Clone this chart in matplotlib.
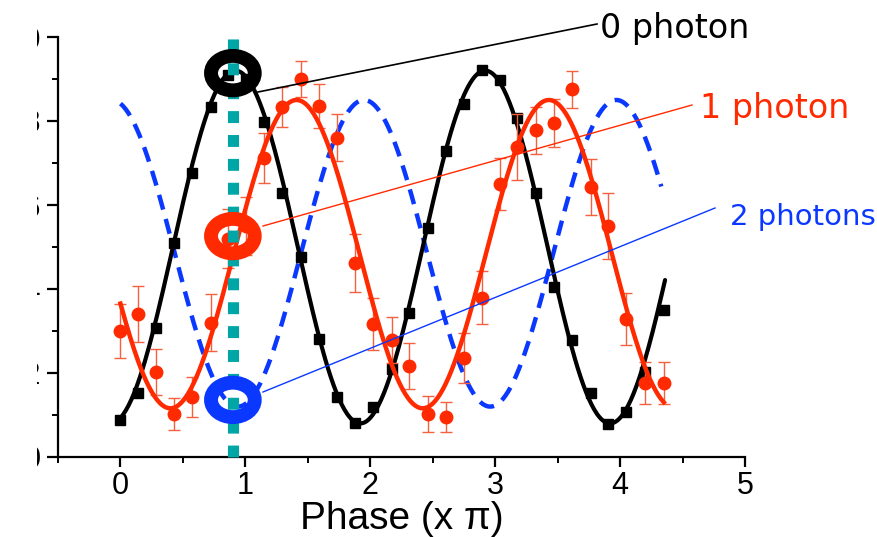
import numpy as np
import matplotlib
matplotlib.use("Agg")
import matplotlib.pyplot as plt
from matplotlib.patches import Ellipse, Rectangle
from matplotlib.lines import Line2D

plt.rcParams['lines.scale_dashes'] = False

# ---------------- data ----------------
phase = [0.00, 0.144, 0.288, 0.432, 0.576, 0.728, 0.864, 1.008, 1.152, 1.296,
         1.448, 1.592, 1.736, 1.880, 2.024, 2.176, 2.312, 2.464, 2.608, 2.752,
         2.896, 3.040, 3.176, 3.328, 3.472, 3.616, 3.768, 3.904, 4.048, 4.200, 4.352]

p0_values = [0.088, 0.152, 0.307, 0.510, 0.676, 0.833, 0.91, 0.90, 0.798, 0.629,
             0.476, 0.281, 0.143, 0.081, 0.119, 0.210, 0.343, 0.545, 0.729, 0.840,
             0.921, 0.898, 0.807, 0.629, 0.405, 0.279, 0.152, 0.079, 0.107, 0.202, 0.350]

p1_values = [0.30, 0.34, 0.203, 0.102, 0.143, 0.32, 0.52, 0.55, 0.712, 0.833,
             0.90, 0.836, 0.76, 0.462, 0.317, 0.278, 0.217, 0.102, 0.095, 0.236,
             0.379, 0.65, 0.738, 0.778, 0.795, 0.876, 0.643, 0.55, 0.329, 0.176, 0.176]

p1_errors = [0.065, 0.066, 0.055, 0.038, 0.047, 0.068, 0.07, 0.07, 0.06, 0.048,
             0.043, 0.053, 0.056, 0.07, 0.062, 0.055, 0.054, 0.043, 0.036, 0.06,
             0.063, 0.063, 0.079, 0.056, 0.057, 0.044, 0.067, 0.078, 0.062, 0.05, 0.05]

# fitted sinusoid parameters: offset, amplitude, peak phase, period, end phase
fit_p0 = (0.50, 0.42, 0.92, 2.00, 4.36)
fit_p1 = (0.483, 0.367, 1.41, 2.02, 4.35)
fit_p2 = (0.485, 0.365, 1.95, 2.02, 4.33)

marker_phase = 0.90
ring_values = [0.914, 0.526, 0.136]

labels = ["0 photon", "1 photon", "2 photons"]
xticks = [0, 1, 2, 3, 4, 5]
yticks = [0.0, 0.2, 0.4, 0.6, 0.8, 1.0]

# ---------------- style ----------------
BLACK = '#000000'
RED = '#FF2A00'
RED_ERR = '#F5603F'
BLUE = '#0A38FF'
TEAL = '#00A6A6'

W, H = 877, 537
fig = plt.figure(figsize=(W / 100, H / 100), dpi=100)
ax = fig.add_axes([58 / W, 80 / H, 687 / W, 420 / H])


def fx(px):
    return px / W


def fy(py):
    return 1 - py / H


def sinus(params):
    off, amp, peak, period, end = params
    x = np.linspace(0, end, 400)
    return x, off + amp * np.cos(2 * np.pi * (x - peak) / period)


# black: 0 photon
x0, y0 = sinus(fit_p0)
ax.plot(x0, y0, color=BLACK, lw=3.0, zorder=3, solid_capstyle='round')
ax.plot(phase, p0_values, 's', color=BLACK, ms=7, zorder=4)

# blue dashed: 2 photons
x2, y2 = sinus(fit_p2)
ax.plot(x2, y2, color=BLUE, lw=3.2, dashes=(11, 7), zorder=2)

# red: 1 photon
ax.errorbar(phase, p1_values, yerr=p1_errors, fmt='none', ecolor=RED_ERR,
            elinewidth=1.0, capsize=4, capthick=1.0, zorder=5)
ax.plot(phase, p1_values, 'o', color=RED, ms=9, zorder=5)
x1, y1 = sinus(fit_p1)
ax.plot(x1, y1, color=RED, lw=3.2, zorder=6)

# teal dotted marker line
ax.plot([marker_phase, marker_phase], [0.0, 1.015], color=TEAL, lw=8,
        dashes=(8.6, 8.6), solid_capstyle='butt', dash_capstyle='butt',
        zorder=7, clip_on=False)

# rings
for yv, col in zip(ring_values, [BLACK, RED, BLUE]):
    ax.add_patch(Ellipse((marker_phase, yv), 0.35, 0.082, fill=False,
                         edgecolor=col, lw=10, zorder=8))

ax.set_xlim(-0.5, 5)
ax.set_ylim(0, 1)
ax.spines['top'].set_visible(False)
ax.spines['right'].set_visible(False)
for s in ['left', 'bottom']:
    ax.spines[s].set_linewidth(1.6)

ax.set_xticks(xticks)
ax.set_xticks(np.arange(-0.5, 5.01, 0.5), minor=True)
ax.set_yticks(yticks)
ax.set_yticks(np.arange(0.1, 1.0, 0.2), minor=True)
ax.set_yticklabels(["0", "0.2", "0.4", "0.6", "0.8", "1.0"])
ax.tick_params(axis='x', which='major', length=7, width=1.6, direction='out',
               labelsize=22, pad=3)
ax.tick_params(axis='x', which='minor', length=4, width=1.4, direction='out')
ax.tick_params(axis='y', which='major', length=8, width=1.6, direction='out',
               labelsize=22, pad=4)
ax.tick_params(axis='y', which='minor', length=4.5, width=1.4, direction='out')
for lab in ax.get_xticklabels() + ax.get_yticklabels():
    lab.set_family('Liberation Sans')

ax.set_xlabel('Phase (x \u03c0)', fontsize=28, family='Liberation Sans', labelpad=0)

# white cover over cut-off y tick labels
fig.add_artist(Rectangle((0, 0), fx(37), 1, transform=fig.transFigure,
                         facecolor='white', edgecolor='none', zorder=20))

# leader lines and labels
leaders = [((258, 92), (597, 24), BLACK, 1.2),
           ((263, 226), (692, 105), RED, 1.0),
           ((263, 392), (715, 208), BLUE, 1.0)]
for (xa, ya), (xb, yb), col, lw in leaders:
    fig.add_artist(Line2D([fx(xa), fx(xb)], [fy(ya), fy(yb)], color=col, lw=lw,
                          transform=fig.transFigure, zorder=9))

text_pos = [(600, 38, BLACK, 24), (700, 118, RED, 24), (730, 225, BLUE, 21)]
for lab, (px, py, col, fs) in zip(labels, text_pos):
    fig.text(fx(px), fy(py), lab, color=col, fontsize=fs, family='DejaVu Sans',
             ha='left', va='baseline', zorder=10)

fig.savefig('out.png', dpi=100, facecolor='white')
